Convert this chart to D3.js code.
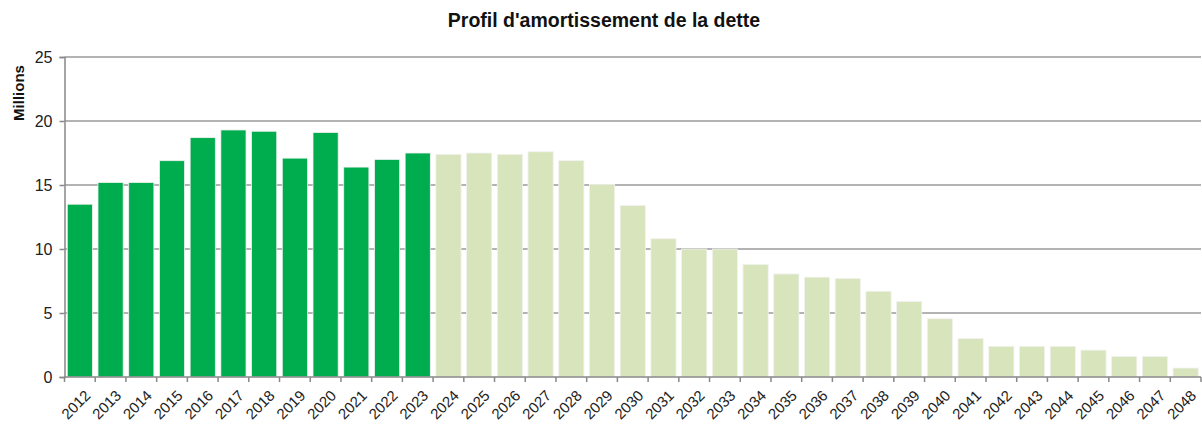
<!DOCTYPE html>
<html>
<head>
<meta charset="utf-8">
<script src="https://cdn.jsdelivr.net/npm/d3@7"></script>
<style>
  html, body { margin: 0; padding: 0; background: #fff; }
  svg { display: block; font-family: "Liberation Sans", Arial, sans-serif; }
</style>
</head>
<body>
<svg id="chart" width="1202" height="428"></svg>
<script>
const years = ["2012","2013","2014","2015","2016","2017","2018","2019","2020","2021","2022","2023",
  "2024","2025","2026","2027","2028","2029","2030","2031","2032","2033","2034","2035","2036","2037",
  "2038","2039","2040","2041","2042","2043","2044","2045","2046","2047","2048"];
const values = [13.5,15.2,15.2,16.9,18.7,19.3,19.2,17.1,19.1,16.4,17.0,17.5,
  17.4,17.5,17.4,17.6,16.9,15.05,13.4,10.8,10.0,10.0,8.8,8.05,7.8,7.7,
  6.7,5.9,4.55,3.0,2.4,2.4,2.4,2.1,1.6,1.6,0.7];
const lastPaidYear = "2023";
const yTicks = [0,5,10,15,20,25];
const title = "Profil d'amortissement de la dette";
const yLabel = "Millions";

const W = 1202, H = 428;
const m = {left: 64.5, right: 1, top: 57, bottom: 51};
const svg = d3.select("#chart");

const x = d3.scaleBand().domain(years).range([m.left, W - m.right]).paddingInner(0.18).paddingOuter(0.09);
const y = d3.scaleLinear().domain([0, 25]).range([H - m.bottom, m.top]);

// gridlines
svg.append("g").selectAll("line").data(yTicks.filter(d => d > 0)).join("line")
  .attr("x1", m.left).attr("x2", W - m.right)
  .attr("y1", d => y(d)).attr("y2", d => y(d))
  .attr("stroke", "#9a9a9a").attr("stroke-width", 1.5);

// bars
const lastIdx = years.indexOf(lastPaidYear);
svg.append("g").selectAll("rect").data(years).join("rect")
  .attr("x", d => x(d)).attr("width", x.bandwidth())
  .attr("y", (d, i) => y(values[i]))
  .attr("height", (d, i) => y(0) - y(values[i]))
  .attr("fill", (d, i) => i <= lastIdx ? "#00ad4e" : "#d8e4bc")
  .attr("stroke", "#f2f2f2").attr("stroke-width", 0.8);

// y axis
const yAxis = svg.append("g").attr("transform", `translate(${m.left},0)`)
  .call(d3.axisLeft(y).tickValues(yTicks).tickSize(5).tickPadding(7));
yAxis.select(".domain").attr("stroke", "#888").attr("stroke-width", 1.5);
yAxis.selectAll(".tick line").attr("stroke", "#888").attr("stroke-width", 1.5);
yAxis.selectAll(".tick text").attr("font-size", 16).attr("fill", "#222")
  .attr("font-family", "'Liberation Sans', Arial, sans-serif");

// x axis
const xAxisG = svg.append("g").attr("transform", `translate(0,${y(0)})`);
xAxisG.append("line").attr("x1", m.left).attr("x2", W - m.right).attr("y1", 0).attr("y2", 0)
  .attr("stroke", "#888").attr("stroke-width", 1.5);
const step = x.step();
const boundaries = years.map(d => x(d) - (step - x.bandwidth()) / 2).concat([x(years[years.length-1]) + x.bandwidth() + (step - x.bandwidth())/2]);
xAxisG.selectAll("line.tk").data(boundaries).join("line").attr("class", "tk")
  .attr("x1", d => d).attr("x2", d => d).attr("y1", 0).attr("y2", 5)
  .attr("stroke", "#888").attr("stroke-width", 1.5);
xAxisG.selectAll("text").data(years).join("text")
  .attr("transform", d => `translate(${x(d) + x.bandwidth() / 2 + 4},12) rotate(-45)`)
  .attr("text-anchor", "end").attr("dy", "0.71em")
  .attr("font-size", 15).attr("fill", "#222")
  .text(d => d);

// y label
svg.append("text")
  .attr("transform", `translate(24,93) rotate(-90)`)
  .attr("text-anchor", "middle").attr("font-size", 15).attr("font-weight", "bold").attr("fill", "#111")
  .text(yLabel);

// title
svg.append("text").attr("x", 604).attr("y", 27).attr("text-anchor", "middle")
  .attr("font-size", 19.5).attr("font-weight", "bold").attr("fill", "#111")
  .text(title);
</script>
</body>
</html>
